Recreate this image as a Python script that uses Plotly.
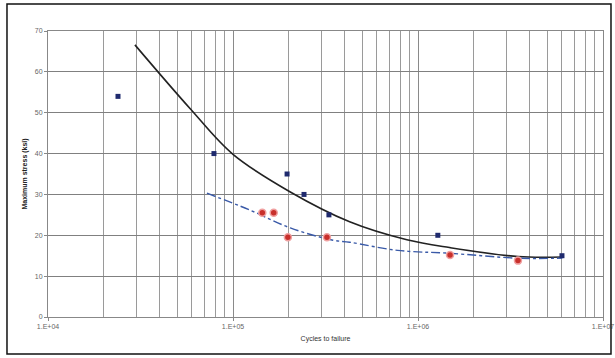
import plotly.graph_objects as go

# Data
blue_cycles = [23900, 78900, 196000, 242000, 330000, 1280000, 6000000]
blue_stress = [54.0, 40.0, 35.0, 30.0, 25.0, 20.0, 15.0]

red_cycles = [144000, 166000, 198000, 322000, 1490000, 3470000]
red_stress = [25.5, 25.5, 19.5, 19.5, 15.2, 13.8]

fit_cycles = [29500, 58900, 100000, 204000, 427000, 871000, 1480000, 3470000, 6030000]
fit_stress = [66.6, 50.9, 39.8, 30.6, 23.3, 18.9, 17.0, 14.8, 14.7]

lower_cycles = [72300, 123000, 204000, 347000, 427000, 776000, 1480000, 3470000, 6030000]
lower_stress = [30.3, 26.2, 21.8, 18.8, 18.3, 16.3, 15.6, 14.4, 14.4]

x_tickvals = [1e4, 1e5, 1e6, 1e7]
x_ticktext = ["1.E+04", "1.E+05", "1.E+06", "1.E+07"]
y_tickvals = [0, 10, 20, 30, 40, 50, 60, 70]

fig = go.Figure()
fig.add_trace(go.Scatter(x=fit_cycles, y=fit_stress, mode="lines",
                         line=dict(color="#222222", width=1.6, shape="spline"),
                         showlegend=False))
fig.add_trace(go.Scatter(x=lower_cycles, y=lower_stress, mode="lines",
                         line=dict(color="#3a5aa8", width=1.4, dash="dashdot", shape="spline"),
                         showlegend=False))
fig.add_trace(go.Scatter(x=red_cycles, y=red_stress, mode="markers",
                         marker=dict(symbol="circle", size=7, color="#c8302c",
                                     line=dict(color="#f0a0a0", width=1.5)),
                         showlegend=False))
fig.add_trace(go.Scatter(x=blue_cycles, y=blue_stress, mode="markers",
                         marker=dict(symbol="square", size=5, color="#1f2a6e"),
                         showlegend=False))

fig.update_layout(
    width=615, height=358,
    margin=dict(l=48, r=12, t=31, b=41),
    paper_bgcolor="white", plot_bgcolor="white",
    font=dict(family="Liberation Sans, Arial, sans-serif", size=7, color="#555555"),
)
fig.update_xaxes(type="log", range=[4, 7], tickvals=x_tickvals, ticktext=x_ticktext,
                 automargin=False,
                 showgrid=True, gridcolor="#8a8a8a", gridwidth=1,
                 minor=dict(showgrid=True, gridcolor="#9a9a9a", gridwidth=1,
                            dtick="D1", ticks=""),
                 showline=True, linecolor="#888888", mirror=True, linewidth=1,
                 ticks="outside", ticklen=3, tickcolor="#888888",
                 tickfont=dict(size=7, color="#666666"),
                 title=dict(text="Cycles to failure", font=dict(size=7, color="#333333"),
                            standoff=6),
                 zeroline=False)
fig.update_yaxes(range=[0, 70], tickvals=y_tickvals, automargin=False,
                 showgrid=True, gridcolor="#808080", gridwidth=1,
                 showline=True, linecolor="#888888", mirror=True, linewidth=1,
                 ticks="outside", ticklen=3, tickcolor="#888888",
                 tickfont=dict(size=7, color="#666666"),
                 title=dict(text="<b>Maximum stress (ksi)</b>", font=dict(size=7, color="#222222"),
                            standoff=6),
                 zeroline=False)

# outer chart border
fig.add_shape(type="rect", xref="paper", yref="paper",
              x0=-0.0739, x1=1.0144, y0=-0.129, y1=1.094,
              line=dict(color="#111111", width=1.5), fillcolor="rgba(0,0,0,0)")

fig.write_html(
    "out.html",
    config={"displayModeBar": False, "responsive": False},
    post_script="document.body.style.margin='0px';document.body.style.overflow='hidden';"
                "document.documentElement.style.overflow='hidden';",
)
